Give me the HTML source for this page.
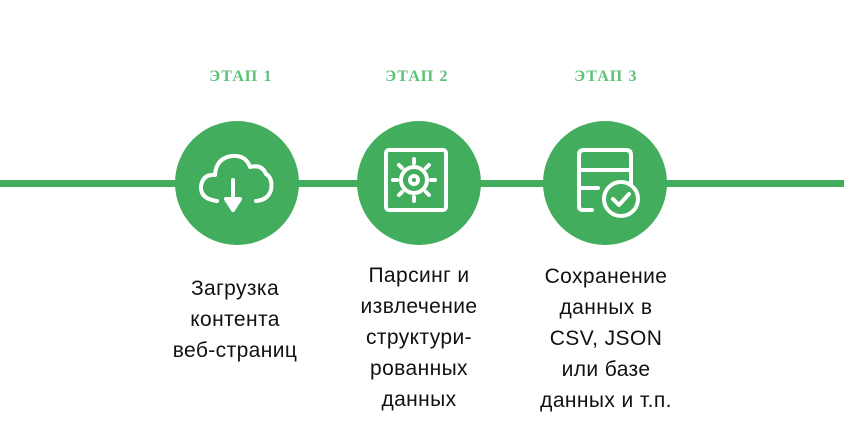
<!DOCTYPE html>
<html><head><meta charset="utf-8"><style>
body{margin:0;width:844px;height:422px;background:#fff;position:relative;overflow:hidden;font-family:"Liberation Sans",sans-serif}
.line{position:absolute;left:0;top:180px;width:844px;height:7px;background:#41ad5d}
.c{position:absolute;width:124px;height:124px;border-radius:50%;background:#41ad5d;top:121px}
.lab{position:absolute;top:68px;width:140px;text-align:center;font-family:"Liberation Serif",serif;font-weight:bold;font-size:16px;color:#5cc27a;letter-spacing:1.2px}
.t{position:absolute;width:200px;text-align:center;font-size:21px;line-height:31px;color:#111;letter-spacing:0.4px}
svg{position:absolute;left:0;top:0}
</style></head><body>
<div class="line"></div>
<div class="lab" style="left:171px">ЭТАП 1</div>
<div class="lab" style="left:347px">ЭТАП 2</div>
<div class="lab" style="left:536px">ЭТАП 3</div>
<div class="c" style="left:175px"></div>
<div class="c" style="left:357px"></div>
<div class="c" style="left:543px"></div>
<svg width="844" height="422" fill="none" stroke="#fff" stroke-width="4" stroke-linecap="round" stroke-linejoin="round">
<path d="M217 201 Q200 199 201 186 Q203 174 215 175 Q216 158 232 156 Q246 155 250 167 Q262 164 266 174 Q273 178 271 190 Q268 200 256 201"/>
<path d="M233 180 V205"/><path d="M226 199 L233 210 L240 199 Z" fill="#fff"/>
<rect x="386" y="150" width="60" height="60" rx="3"/>
<circle cx="414" cy="180" r="13"/><circle cx="414" cy="180" r="4"/>
<g stroke-width="4"><path d="M414 163v-4M414 197v4M397 180h-4M431 180h4M402 168l-3-3M426 192l3 3M426 168l3-3M402 192l-3 3"/></g>
<path d="M592 210 H583 Q579 210 579 206 V155 Q579 150 584 150 H626 Q631 150 631 155 V185"/>
<path d="M579 170 H631 M579 188 H598 M596 170 H612"/>
<circle cx="621" cy="199" r="17" fill="#41ad5d"/>
<path d="M613 199 L619 205 L629 194"/>
</svg>
<div class="t" style="left:135px;top:273px">Загрузка<br>контента<br>веб-страниц</div>
<div class="t" style="left:319px;top:260px">Парсинг и<br>извлечение<br>структури-<br>рованных<br>данных</div>
<div class="t" style="left:506px;top:261px">Сохранение<br>данных в<br>CSV, JSON<br>или базе<br>данных и т.п.</div>
</body></html>
